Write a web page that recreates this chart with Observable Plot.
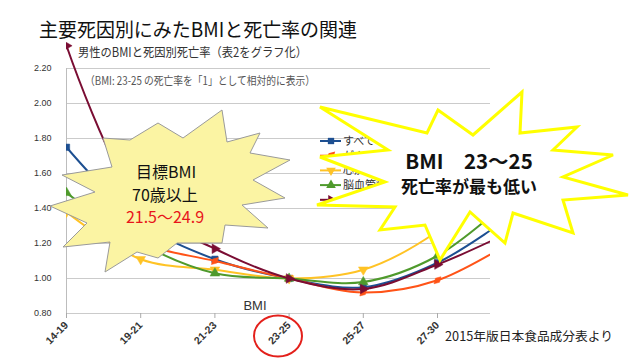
<!DOCTYPE html>
<html><head><meta charset="utf-8">
<script src="https://cdn.jsdelivr.net/npm/d3@7"></script>
<script src="https://cdn.jsdelivr.net/npm/@observablehq/plot@0.6"></script>
<style>
html,body{margin:0;padding:0;background:#fff;}
#chart{width:640px;height:360px;overflow:hidden;}
</style>
</head><body><div id="chart"></div>
<script>
// ---- data ----
const categories = ["14-19","19-21","21-23","23-25","25-27","27-30","30-"];
const seriesNames = ["すべての死因","がん","心疾患","脳血管疾患","その他"];
const allCauses = [1.75, 1.32, 1.11, 1.00, 0.95, 1.09, 1.36];
const cancer    = [1.42, 1.20, 1.10, 1.00, 0.92, 0.99, 1.21];
const heart     = [1.38, 1.11, 1.05, 1.00, 1.05, 1.27, 1.65];
const stroke    = [1.49, 1.20, 1.03, 1.00, 0.98, 1.13, 1.46];
const other     = [2.33, 1.42, 1.17, 1.00, 0.94, 1.08, 1.27];
const yTicks = [0.8, 1.0, 1.2, 1.4, 1.6, 1.8, 2.0, 2.2];
const shownTicks = [0, 1, 2, 3, 4, 5];

const seriesValues = [allCauses, cancer, heart, stroke, other];
const colors = ["#1d4f91", "#ff5317", "#ffc325", "#4f9a2c", "#7a0d33"];
const symbols = ["square", "diamond", "triangle", "triangle", "triangle"];
const rotations = [0, 45, 180, 0, 90];

const rows = [];
seriesNames.forEach((s, k) => seriesValues[k].forEach((v, i) => rows.push({series: s, i, value: v, k})));

const jp = "'Noto Sans CJK JP', 'Noto Sans', sans-serif";

const marks = [
  Plot.ruleY(yTicks, {stroke: "#cbcbcb", strokeWidth: 1}),
  Plot.ruleX([0], {y1: 0.8, y2: 2.2, stroke: "#bdbdbd"}),
  Plot.axisY({ticks: yTicks, tickFormat: d => d.toFixed(2), tickSize: 0, tickPadding: 15, fontSize: 9, label: null, fill: "#333"}),
  Plot.axisX({ticks: shownTicks, tickFormat: i => categories[i], tickRotate: -45, tickSize: 5, tickPadding: 5, fontSize: 10.5, fontWeight: "bold", label: null, stroke: "#aaa", fill: "#333"})
];
seriesNames.forEach((s, k) => {
  const d = rows.filter(r => r.k === k);
  marks.push(Plot.line(d, {x: "i", y: "value", stroke: colors[k], strokeWidth: 2, curve: "catmull-rom", clip: true}));
  marks.push(Plot.dot(d, {x: "i", y: "value", symbol: symbols[k], fill: colors[k], stroke: colors[k], strokeWidth: 0.5, r: k === 1 ? 3 : 3.6, rotate: rotations[k], clip: true}));
});

const chart = Plot.plot({
  width: 640, height: 360,
  marginLeft: 66, marginRight: 150, marginTop: 33, marginBottom: 47,
  x: {type: "linear", domain: [0, 424 / 74.2]},
  y: {domain: [0.8, 2.4]},
  style: {fontFamily: "'Liberation Sans', Arial, sans-serif", background: "#fff", overflow: "visible"},
  marks
});
document.getElementById("chart").appendChild(chart);

// ---- annotations (overlay) ----
const svg = d3.select(chart);
const g = svg.append("g").attr("text-anchor", "start");

// legend
const legY0 = 141, legStep = 14.7;
seriesNames.forEach((s, k) => {
  const y = legY0 + k * legStep;
  g.append("line").attr("x1", 320).attr("x2", 341).attr("y1", y).attr("y2", y).attr("stroke", colors[k]).attr("stroke-width", 2);
  const sym = d3.symbol().type({square: d3.symbolSquare, diamond: d3.symbolDiamond, triangle: d3.symbolTriangle}[symbols[k]]).size(40);
  g.append("path").attr("d", sym()).attr("fill", colors[k]).attr("transform", `translate(331,${y}) rotate(${rotations[k]})`);
  g.append("text").attr("x", 343).attr("y", y).attr("dy", "0.35em").attr("text-anchor", "start").attr("font-size", 11).attr("fill", "#333").attr("font-family", jp).text(s);
});

// left starburst
const leftStar = [[222,110],[227,142],[260,133],[250,153],[290,160],[253,180],[285,198],[242,205],[268,228],[225,225],[222,243],[177,243],[158,258],[137,252],[105,272],[110,242],[63,247],[87,223],[50,206],[95,192],[62,175],[112,167],[103,138],[130,140],[158,123],[183,138]];
g.append("polygon").attr("points", leftStar.map(p => p.join(",")).join(" ")).attr("fill", "#fbf4a3").attr("stroke", "#9a9a9a").attr("stroke-width", 1);

// right starburst
const rightStar = [[320,107],[427,133],[438,110],[473,135],[522,92],[520,133],[577,127],[553,150],[613,155],[563,177],[628,195],[563,200],[573,233],[513,213],[505,243],[470,212],[440,260],[425,225],[380,230],[395,207],[317,205],[385,182],[320,157],[388,150]];
g.append("polygon").attr("points", rightStar.map(p => p.join(",")).join(" ")).attr("fill", "#fff").attr("stroke", "#ffff00").attr("stroke-width", 3).attr("stroke-linejoin", "miter");

// red circle around 23-25
g.append("ellipse").attr("cx", 278).attr("cy", 336).attr("rx", 24).attr("ry", 20.5).attr("fill", "none").attr("stroke", "#e3201b").attr("stroke-width", 2);

function txt(x, y, s, size, opts = {}) {
  const t = g.append("text").attr("x", x).attr("y", y).attr("font-size", size).attr("font-family", opts.family || jp)
    .attr("fill", opts.fill || "#222").attr("text-anchor", opts.anchor || "start").attr("dy", "0.35em").text(s);
  if (opts.weight) t.attr("font-weight", opts.weight);
  if (opts.len) t.attr("textLength", opts.len).attr("lengthAdjust", "spacingAndGlyphs");
  return t;
}
txt(39, 30, "主要死因別にみたBMIと死亡率の関連", 19.5, {fill: "#111", len: 318});
txt(78, 53, "男性のBMIと死因別死亡率（表2をグラフ化）", 12.5, {fill: "#333", len: 229});
txt(85, 81, "（BMI: 23-25 の死亡率を「1」として相対的に表示）", 11.5, {fill: "#555", len: 230});
txt(255, 305, "BMI", 13, {anchor: "middle", fill: "#333", family: "'Liberation Sans', Arial, sans-serif"});
txt(445, 337, "2015年版日本食品成分表より", 12.5, {fill: "#222", len: 168});

txt(166, 172, "目標BMI", 16, {anchor: "middle", fill: "#111"});
txt(165, 195, "70歳以上", 16, {anchor: "middle", fill: "#111"});
txt(165, 217, "21.5～24.9", 16, {anchor: "middle", fill: "#e8141b"});

txt(469, 162, "BMI　23～25", 20.5, {anchor: "middle", fill: "#111", weight: "bold"});
txt(469, 187, "死亡率が最も低い", 17, {anchor: "middle", fill: "#111", weight: "bold"});
</script>
</body></html>
